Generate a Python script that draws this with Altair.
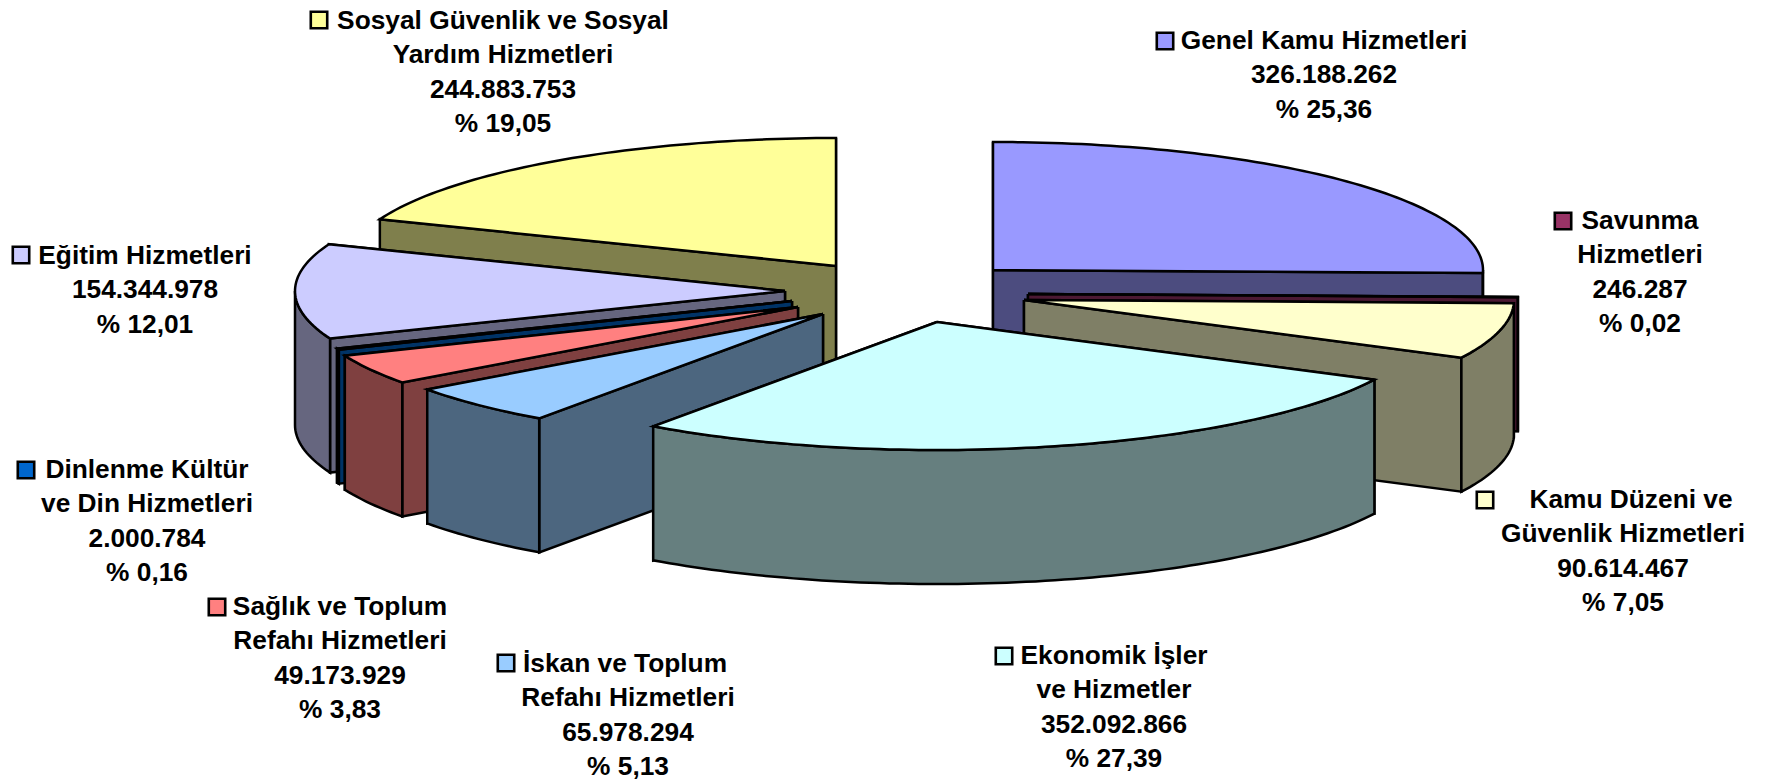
import math
import altair as alt
import pandas as pd

# ---- chart values ----
names = ["Genel Kamu Hizmetleri", "Savunma Hizmetleri", "Kamu Düzeni ve Güvenlik Hizmetleri",
         "Ekonomik İşler ve Hizmetler", "İskan ve Toplum Refahı Hizmetleri",
         "Sağlık ve Toplum Refahı Hizmetleri", "Dinlenme Kültür ve Din Hizmetleri",
         "Eğitim Hizmetleri", "Sosyal Güvenlik ve Sosyal Yardım Hizmetleri"]
values = [326188262, 246287, 90614467, 352092866, 65978294, 49173929, 2000784, 154344978, 244883753]
top_colors = ["#9999FF", "#993366", "#FFFFCC", "#CCFFFF", "#99CCFF", "#FF8080", "#0066CC", "#CCCCFF", "#FFFF99"]
side_colors = ["#4C4C7F", "#4C1933", "#7F7F66", "#667F7F", "#4C667F", "#7F4040", "#003366", "#66667F", "#7F7F4C"]
label_lines = [
    ["Genel Kamu Hizmetleri", "326.188.262", "% 25,36"],
    ["Savunma", "Hizmetleri", "246.287", "% 0,02"],
    ["Kamu Düzeni ve", "Güvenlik Hizmetleri", "90.614.467", "% 7,05"],
    ["Ekonomik İşler", "ve Hizmetler", "352.092.866", "% 27,39"],
    ["İskan ve Toplum", "Refahı Hizmetleri", "65.978.294", "% 5,13"],
    ["Sağlık ve Toplum", "Refahı Hizmetleri", "49.173.929", "% 3,83"],
    ["Dinlenme Kültür", "ve Din Hizmetleri", "2.000.784", "% 0,16"],
    ["Eğitim Hizmetleri", "154.344.978", "% 12,01"],
    ["Sosyal Güvenlik ve Sosyal", "Yardım Hizmetleri", "244.883.753", "% 19,05"],
]

# ---- layout of the exploded pie (pixels of the page) ----
RX, RY, DEPTH = 490, 128, 134
centers = [(993, 270), (1028, 294), (1024, 300), (937, 322), (823, 314),
           (798, 307), (792, 301), (785, 291), (836, 266)]
label_x = [1324, 1640, 1623, 1114, 628, 340, 147, 145, 503]
label_y = [41, 221, 500, 656, 664, 607, 470, 256, 21]
line_gap = 34.3
key_pos = [(1165, 41), (1563, 221), (1485, 500), (1004, 656), (506, 663), (217, 607),
           (26, 470), (21, 255), (319, 20)]
first_dx = [0, 0, 8, 0, -3, 0, 0, 0, 0]

total = sum(values)
rows = []
pid = 0


def add_poly(pts, fill):
    global pid
    pts = list(pts) + [pts[0]]
    for i, (x, y) in enumerate(pts):
        rows.append({"poly": pid, "i": i, "x": x, "y": y, "fill": fill})
    pid += 1


def rim(c, a):
    return c[0] + RX * math.sin(a), c[1] - RY * math.cos(a)


def arc(a0, a1, n=None):
    n = n or max(2, int(abs(a1 - a0) / 0.02))
    return [a0 + (a1 - a0) * k / n for k in range(n + 1)]


starts = []
acc = 0
for v in values:
    starts.append(acc / total * 2 * math.pi)
    acc += v

# painter's order, back to front
for s in [8, 0, 1, 2, 7, 6, 5, 4, 3]:
    c = centers[s]
    a0 = starts[s]
    a1 = a0 + values[s] / total * 2 * math.pi
    # cut walls, the farther one first
    walls = sorted([a0, a1], key=lambda a: rim(c, a)[1])
    for a in walls:
        p = rim(c, a)
        add_poly([c, p, (p[0], p[1] + DEPTH), (c[0], c[1] + DEPTH)], side_colors[s])
    # outer wall: the part of the rim that faces the viewer
    lo, hi = max(a0, math.pi / 2), min(a1, 3 * math.pi / 2)
    if hi > lo:
        top = [rim(c, a) for a in arc(lo, hi)]
        add_poly(top + [(x, y + DEPTH) for x, y in reversed(top)], side_colors[s])
    # top face
    add_poly([c] + [rim(c, a) for a in arc(a0, a1)], top_colors[s])

poly_df = pd.DataFrame(rows)

text_rows = []
for s, lines in enumerate(label_lines):
    for k, t in enumerate(lines):
        text_rows.append({"x": label_x[s] + (first_dx[s] if k == 0 else 0),
                          "y": label_y[s] + k * line_gap, "t": t})
text_df = pd.DataFrame(text_rows)
key_df = pd.DataFrame({"x": [p[0] for p in key_pos], "y": [p[1] for p in key_pos],
                       "fill": top_colors, "name": names})

W, H = 1745, 772
xs = alt.Scale(domain=[8, 8 + W], nice=False, zero=False)
ys = alt.Scale(domain=[8 + H, 8], nice=False, zero=False)

polys = alt.Chart(poly_df).mark_line(stroke="black", strokeWidth=2.5, strokeJoin="miter", clip=False).encode(
    x=alt.X("x:Q", scale=xs, axis=None),
    y=alt.Y("y:Q", scale=ys, axis=None),
    detail="poly:N",
    fill=alt.Fill("fill:N", scale=None),
    order=alt.Order("i:Q"),
)
keys = alt.Chart(key_df).mark_square(size=270, stroke="black", strokeWidth=2.6, opacity=1).encode(
    x=alt.X("x:Q", scale=xs, axis=None),
    y=alt.Y("y:Q", scale=ys, axis=None),
    fill=alt.Fill("fill:N", scale=None),
)
texts = alt.Chart(text_df).mark_text(font="Liberation Sans", fontWeight="bold", fontSize=26.3,
                                     align="center", baseline="middle", color="black").encode(
    x=alt.X("x:Q", scale=xs, axis=None),
    y=alt.Y("y:Q", scale=ys, axis=None),
    text="t:N",
)

chart = alt.layer(polys, keys, texts).properties(
    width=W, height=H, padding=0, autosize=alt.AutoSizeParams(type="none")
).configure_view(stroke=None)
chart.save("out.html", embed_options={"renderer": "svg", "actions": False})
